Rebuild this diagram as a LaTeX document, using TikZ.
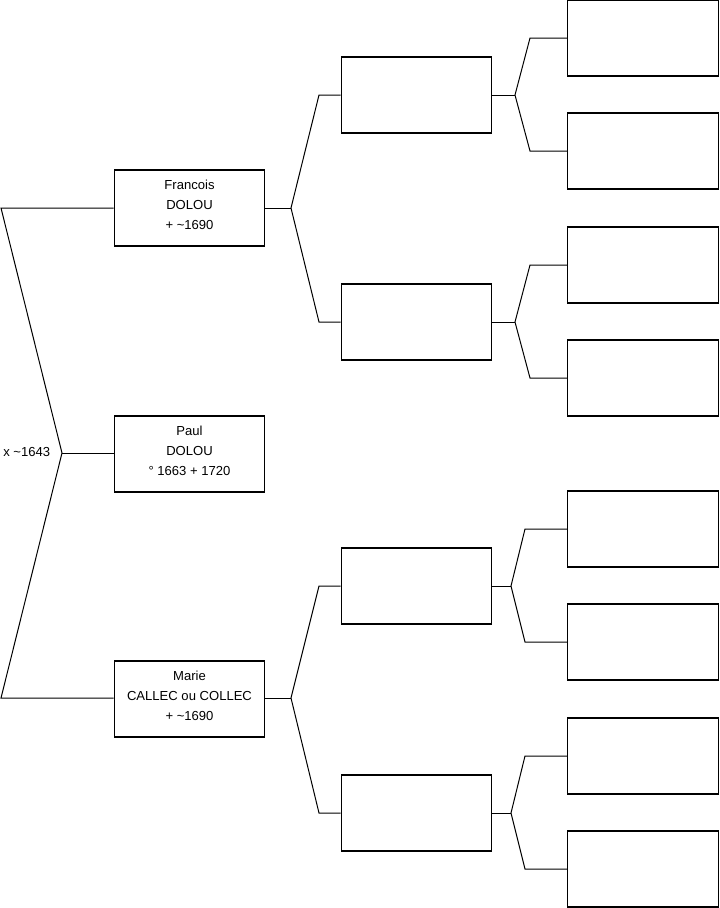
\documentclass[tikz,border=0pt]{standalone}
\usepackage{fontspec}
\setmainfont{Liberation Sans}
\tikzset{
  persbox/.style={draw,line width=0.9pt,align=center,minimum width=113pt,minimum height=57pt,
    inner sep=0pt,font=\fontsize{9.8}{15}\selectfont},
  link/.style={draw,line width=0.75pt}
}
\begin{document}
\begin{tikzpicture}[x=0.75pt,y=-0.75pt]
  \useasboundingbox (0,0) rectangle (719,908);
  % generation 1
  \node[persbox] (paul) at (189.5,454) {Paul\\DOLOU\\° 1663 + 1720\\[-10pt]};
  % generation 2
  \node[persbox] (fra) at (189.5,208) {Francois\\DOLOU\\+ \textasciitilde1690\\[-10pt]};
  \node[persbox] (mar) at (189.5,699) {Marie\\CALLEC ou COLLEC\\+ \textasciitilde1690\\[-10pt]};
  \node[font=\fontsize{9.8}{15}\selectfont,anchor=west,inner sep=0pt] (mariage) at (3,452) {x \textasciitilde1643};
  % generation 3
  \node[persbox] (ff) at (416.5,95) {};
  \node[persbox] (fm) at (416.5,322) {};
  \node[persbox] (mf) at (416.5,586) {};
  \node[persbox] (mm) at (416.5,813) {};
  % generation 4
  \node[persbox] (fff) at (643,38) {};
  \node[persbox] (ffm) at (643,151) {};
  \node[persbox] (fmf) at (643,265) {};
  \node[persbox] (fmm) at (643,378) {};
  \node[persbox] (mff) at (643,529) {};
  \node[persbox] (mfm) at (643,642) {};
  \node[persbox] (mmf) at (643,756) {};
  \node[persbox] (mmm) at (643,869) {};
  % branch points
  \coordinate (jp) at (62,453);
  \coordinate (jpa) at (1,208);
  \coordinate (jpb) at (1,698);
  \coordinate (jf) at (291,208);
  \coordinate (jfa) at (319,95);
  \coordinate (jfb) at (319,322);
  \coordinate (jm) at (291,698);
  \coordinate (jma) at (319,586);
  \coordinate (jmb) at (319,813);
  \coordinate (jff) at (515,95);
  \coordinate (jffa) at (530,38);
  \coordinate (jffb) at (530,151);
  \coordinate (jfm) at (515,322);
  \coordinate (jfma) at (530,265);
  \coordinate (jfmb) at (530,378);
  \coordinate (jmf) at (511,586);
  \coordinate (jmfa) at (525,529);
  \coordinate (jmfb) at (525,642);
  \coordinate (jmm) at (511,813);
  \coordinate (jmma) at (525,756);
  \coordinate (jmmb) at (525,869);
  % links
  \draw[link] (paul.west |- jp) -- (jp);
  \draw[link] (fra.west |- jpa) -- (jpa) -- (jp) -- (jpb) -- (mar.west |- jpb);
  \draw[link] (fra.east |- jf) -- (jf);
  \draw[link] (ff.west) -- (jfa) -- (jf) -- (jfb) -- (fm.west);
  \draw[link] (mar.east |- jm) -- (jm);
  \draw[link] (mf.west) -- (jma) -- (jm) -- (jmb) -- (mm.west);
  \draw[link] (ff.east) -- (jff);
  \draw[link] (fff.west) -- (jffa) -- (jff) -- (jffb) -- (ffm.west);
  \draw[link] (fm.east) -- (jfm);
  \draw[link] (fmf.west) -- (jfma) -- (jfm) -- (jfmb) -- (fmm.west);
  \draw[link] (mf.east) -- (jmf);
  \draw[link] (mff.west) -- (jmfa) -- (jmf) -- (jmfb) -- (mfm.west);
  \draw[link] (mm.east) -- (jmm);
  \draw[link] (mmf.west) -- (jmma) -- (jmm) -- (jmmb) -- (mmm.west);
\end{tikzpicture}
\end{document}
